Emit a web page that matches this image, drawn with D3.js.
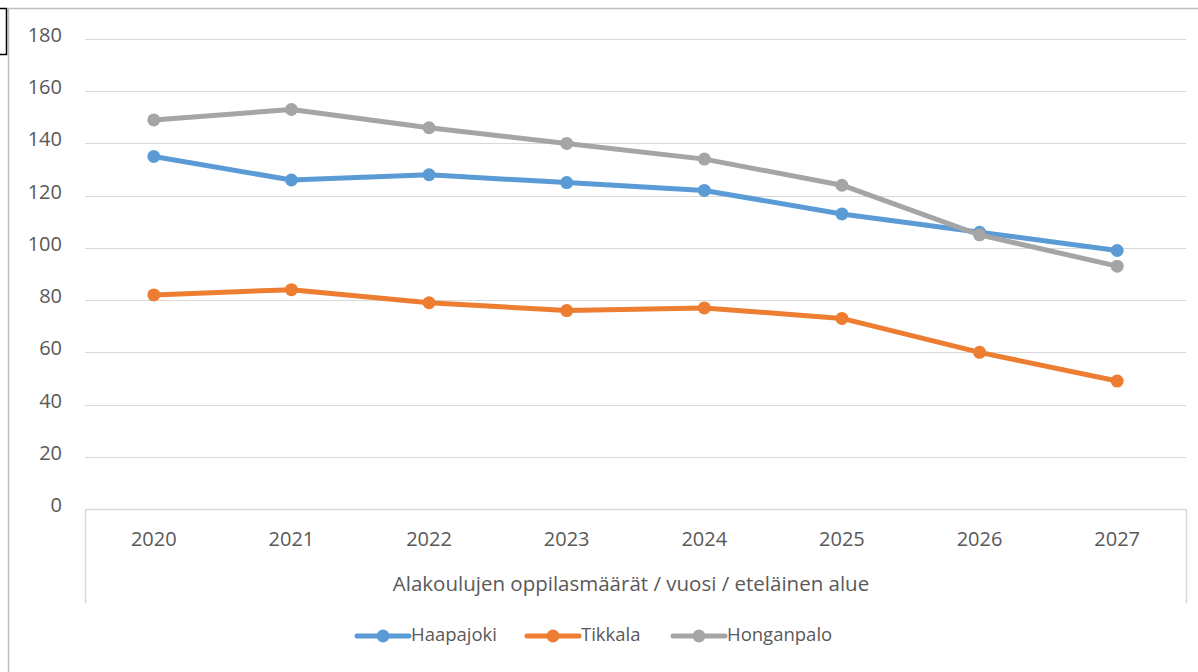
<!DOCTYPE html>
<html>
<head>
<meta charset="utf-8">
<script src="https://cdn.jsdelivr.net/npm/d3@7"></script>
<style>
  body { margin: 0; background: #fff; }
  text { font-family: "Open Sans", "Noto Sans", sans-serif; fill: #595959; }
</style>
</head>
<body>
<svg id="chart" width="1198" height="672"></svg>
<script>
// data
const years = ["2020", "2021", "2022", "2023", "2024", "2025", "2026", "2027"];
const haapajoki = [135, 126, 128, 125, 122, 113, 106, 99];
const tikkala = [82, 84, 79, 76, 77, 73, 60, 49];
const honganpalo = [149, 153, 146, 140, 134, 124, 105, 93];
const yTicks = [0, 20, 40, 60, 80, 100, 120, 140, 160, 180];
const axisTitle = "Alakoulujen oppilasmäärät / vuosi / eteläinen alue";

const series = [
  {name: "Haapajoki", values: haapajoki, color: "#5b9bd5"},
  {name: "Tikkala", values: tikkala, color: "#ed7d31"},
  {name: "Honganpalo", values: honganpalo, color: "#a5a5a5"}
];

const svg = d3.select("#chart");
const W = 1198, H = 672;
const plotL = 85, plotR = 1186, plotT = 39, plotB = 509;

// frame (cropped screenshot edges)
svg.append("line").attr("x1", 8).attr("x2", W).attr("y1", 8.5).attr("y2", 8.5)
  .attr("stroke", "#bfbfbf").attr("stroke-width", 1.5);
svg.append("line").attr("x1", 8.5).attr("x2", 8.5).attr("y1", 8).attr("y2", H)
  .attr("stroke", "#bfbfbf").attr("stroke-width", 1.5);
svg.append("path").attr("d", "M0,8.5H6.5V54.5H0")
  .attr("fill", "none").attr("stroke", "#000").attr("stroke-width", 1.5);

const x = d3.scaleBand().domain(years).range([plotL, plotR]);
const y = d3.scaleLinear().domain([0, 180]).range([plotB, plotT]);

// gridlines
svg.append("g").selectAll("line").data(yTicks.filter(d => d > 0)).join("line")
  .attr("x1", plotL).attr("x2", plotR)
  .attr("y1", d => Math.round(y(d)) + 0.5).attr("y2", d => Math.round(y(d)) + 0.5)
  .attr("stroke", "#d9d9d9").attr("stroke-width", 1);

// y labels
svg.append("g").selectAll("text").data(yTicks).join("text")
  .attr("x", 62).attr("y", d => y(d) - 4).attr("dy", "0.35em")
  .attr("text-anchor", "end").attr("font-size", 20).text(d => d);

// x axis line + outer dividers
svg.append("line").attr("x1", plotL).attr("x2", plotR)
  .attr("y1", plotB + 0.5).attr("y2", plotB + 0.5)
  .attr("stroke", "#d9d9d9").attr("stroke-width", 1.5);
svg.append("g").selectAll("line").data([plotL, plotR]).join("line")
  .attr("x1", d => d + 0.5).attr("x2", d => d + 0.5)
  .attr("y1", plotB).attr("y2", 603)
  .attr("stroke", "#d9d9d9").attr("stroke-width", 1.5);

// x labels
svg.append("g").selectAll("text").data(years).join("text")
  .attr("x", d => x(d) + x.bandwidth() / 2).attr("y", 539).attr("dy", "0.35em")
  .attr("text-anchor", "middle").attr("font-size", 20).text(d => d);

svg.append("text").attr("x", 631).attr("y", 584).attr("dy", "0.35em")
  .attr("text-anchor", "middle").attr("font-size", 20.5).text(axisTitle);

// lines and markers
const line = d3.line()
  .x((d, i) => x(years[i]) + x.bandwidth() / 2)
  .y(d => y(d));

const g = svg.append("g");
series.forEach(s => {
  g.append("path").datum(s.values)
    .attr("fill", "none").attr("stroke", s.color)
    .attr("stroke-width", 5).attr("stroke-linejoin", "round")
    .attr("d", line);
  g.append("g").selectAll("circle").data(s.values).join("circle")
    .attr("cx", (d, i) => x(years[i]) + x.bandwidth() / 2)
    .attr("cy", d => y(d)).attr("r", 6.5)
    .attr("fill", s.color);
});

// legend
const legendX = [357, 527, 673];
const lg = svg.append("g");
series.forEach((s, i) => {
  const lx = legendX[i], ly = 636;
  lg.append("line").attr("x1", lx).attr("x2", lx + 52).attr("y1", ly).attr("y2", ly)
    .attr("stroke", s.color).attr("stroke-width", 5).attr("stroke-linecap", "round");
  lg.append("circle").attr("cx", lx + 26).attr("cy", ly).attr("r", 6.5).attr("fill", s.color);
  lg.append("text").attr("x", lx + 54).attr("y", ly - 1).attr("dy", "0.35em")
    .attr("font-size", 18.5).text(s.name);
});
</script>
</body>
</html>
